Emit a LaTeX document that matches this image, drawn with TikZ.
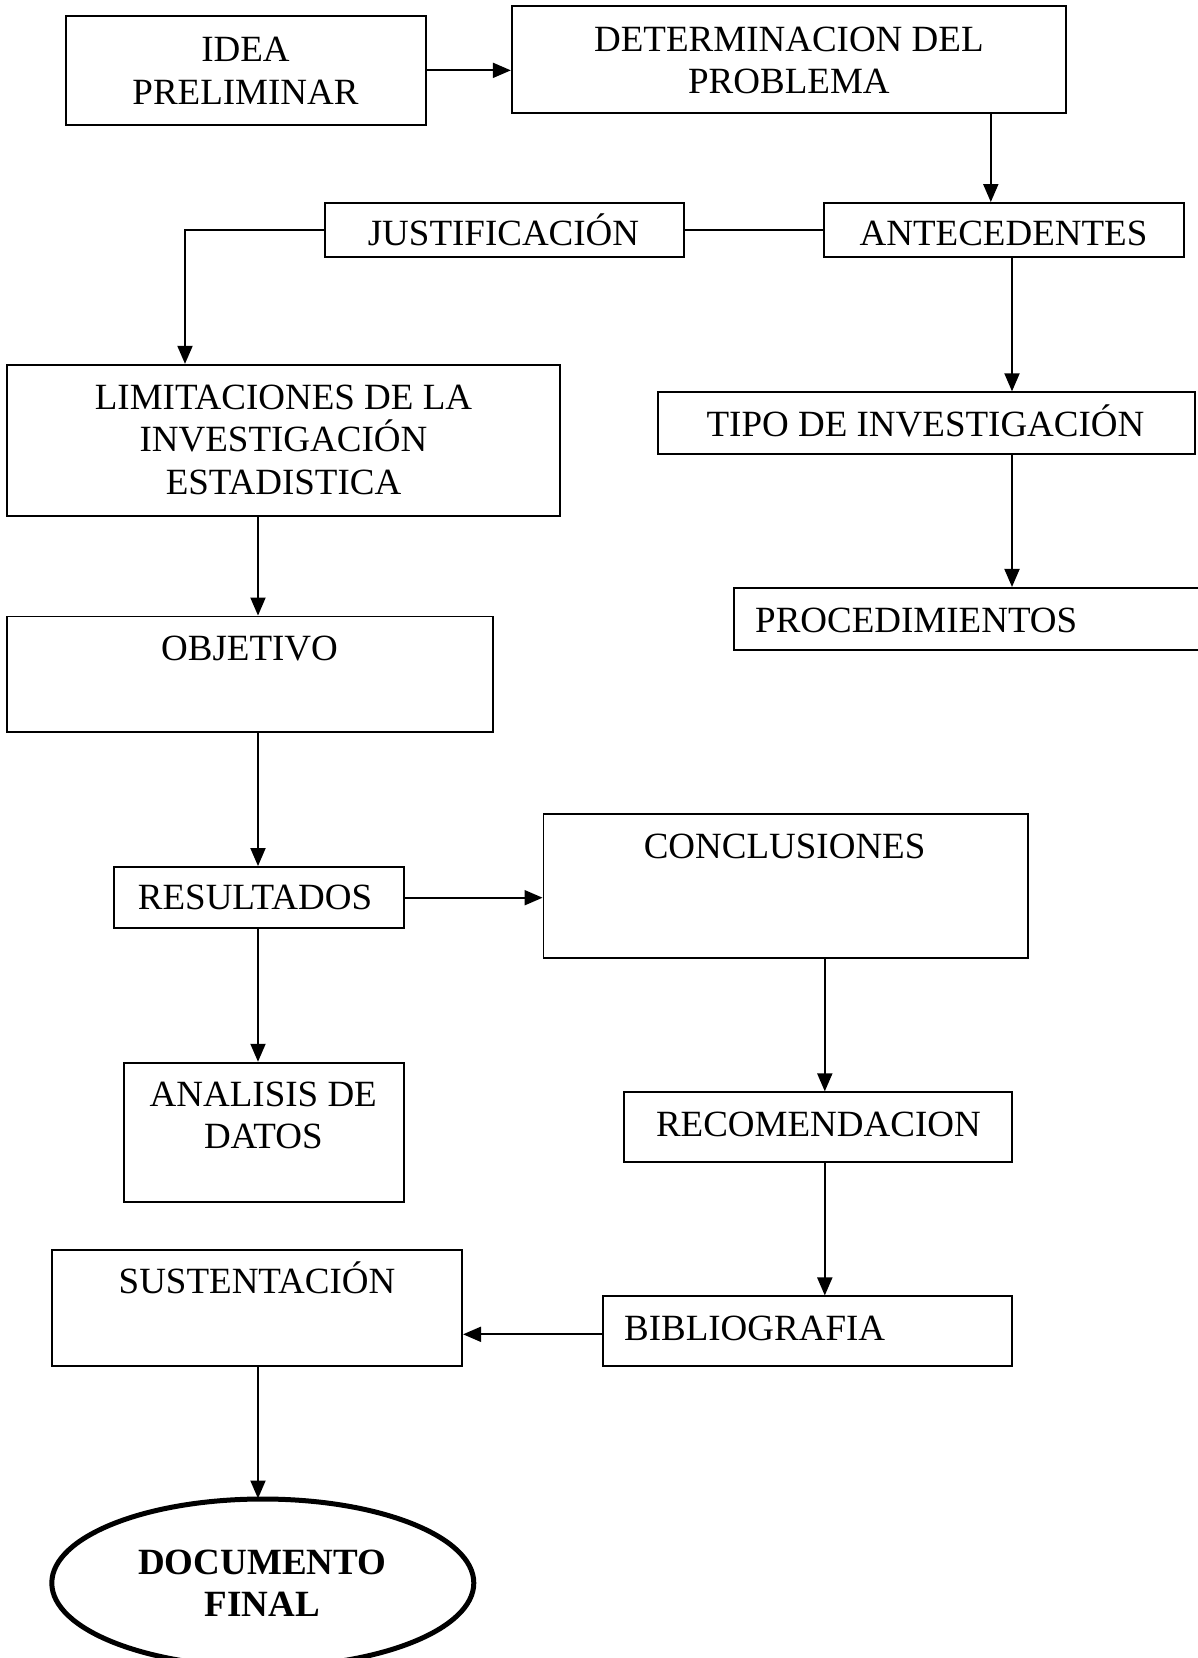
\documentclass[tikz,border=0pt]{standalone}
\usepackage{fontspec}
\setmainfont{Liberation Serif}
\usetikzlibrary{arrows.meta,fit,shapes.geometric}
\newcommand\fsz{\fontsize{37}{42.3}\selectfont}
\tikzset{
  box/.style={draw, line width=1.9pt, inner sep=0pt},
  txt/.style={font=\fsz, anchor=base, inner sep=0pt},
  arr/.style={line width=1.9pt, -{Triangle[length=18pt,width=15pt]}},
  ln/.style={line width=1.9pt}
}
\newcommand\boxat[5]{\node[box, fit={(#2,#3) (#4,#5)}] (#1) {};}
\begin{document}
\begin{tikzpicture}[x=1pt,y=-1pt]
\useasboundingbox (0,0) rectangle (1198,1658);
% boxes
\boxat{idea}{65.6}{15.9}{426.1}{124.8}
\boxat{det}{511.8}{6.3}{1065.9}{113.1}
\boxat{just}{324.6}{203}{684.1}{257}
\boxat{ant}{823.7}{203}{1184.3}{257}
\boxat{limit}{7.4}{364.8}{560.4}{516}
\boxat{tipo}{657.7}{392.3}{1194.9}{453.6}
\boxat{proc}{733.8}{587.9}{1220}{650.3}
\boxat{obj}{7.4}{616.5}{492.7}{731.7}
\boxat{res}{114.2}{867}{403.9}{928.4}
\boxat{conc}{543.5}{814.2}{1027.8}{958}
\boxat{anal}{123.7}{1062.7}{403.9}{1202.3}
\boxat{recom}{623.9}{1092.3}{1011.9}{1162.1}
\boxat{bib}{602.7}{1296.4}{1011.9}{1366.2}
\boxat{sust}{51.8}{1249.9}{462.1}{1366.2}
\node[draw, ellipse, line width=5pt, minimum width=422pt, minimum height=168pt, inner sep=0pt] (doc) at (262.8,1583) {};
% texts
\node[txt] (idea1) at (245.5,61.7) {IDEA};
\node[txt] (idea2) at (245.5,104) {PRELIMINAR};
\node[txt] (det1) at (788.9,51) {DETERMINACION DEL};
\node[txt] (det2) at (788.9,93.4) {PROBLEMA};
\node[txt] (just1) at (503.5,245.7) {JUSTIFICACIÓN};
\node[txt] (ant1) at (1003.5,245.7) {ANTECEDENTES};
\node[txt] (lim1) at (283.5,409.6) {LIMITACIONES DE LA};
\node[txt] (lim2) at (283.5,451.9) {INVESTIGACIÓN};
\node[txt] (lim3) at (283.5,494.2) {ESTADISTICA};
\node[txt] (tipo1) at (925.5,436) {TIPO DE INVESTIGACIÓN};
\node[txt, anchor=base west] (proc1) at (755,632.7) {PROCEDIMIENTOS};
\node[txt] (obj1) at (249.5,660) {OBJETIVO};
\node[txt] (res1) at (255,909.7) {RESULTADOS};
\node[txt] (conc1) at (784.6,858) {CONCLUSIONES};
\node[txt] (anal1) at (263.3,1106.4) {ANALISIS DE};
\node[txt] (anal2) at (263.3,1148.7) {DATOS};
\node[txt] (rec1) at (818.4,1136) {RECOMENDACION};
\node[txt, anchor=base west] (bib1) at (623.9,1340) {BIBLIOGRAFIA};
\node[txt] (sust1) at (257,1293.6) {SUSTENTACIÓN};
\node[txt, font=\fsz\bfseries] (doc1) at (262.2,1574) {DOCUMENTO};
\node[txt, font=\fsz\bfseries] (doc2) at (262.2,1616) {FINAL};
% connector columns
\coordinate (cA) at (990.8,0);
\coordinate (cB) at (1012,0);
\coordinate (cC) at (258,0);
\coordinate (cD) at (824.8,0);
\coordinate (cE) at (185,0);
% connectors
\draw[arr] (idea.east) -- (idea.east -| det.west);
\draw[arr] (det.south -| cA) -- (ant.north -| cA);
\draw[ln] (just.east) -- (ant.west);
\draw[arr] (just.west) -| (limit.north -| cE);
\draw[arr] (ant.south -| cB) -- (tipo.north -| cB);
\draw[arr] (tipo.south -| cB) -- (proc.north -| cB);
\draw[arr] (limit.south -| cC) -- (obj.north -| cC);
\draw[arr] (obj.south -| cC) -- (res.north -| cC);
\draw[arr] (res.east) -- (res.east -| conc.west);
\draw[arr] (res.south -| cC) -- (anal.north -| cC);
\draw[arr] (conc.south -| cD) -- (recom.north -| cD);
\draw[arr] (recom.south -| cD) -- (bib.north -| cD);
\draw[arr] ([yshift=-3pt]bib.west) -- ([yshift=-3pt]bib.west -| sust.east);
\draw[arr] (sust.south -| cC) -- ([yshift=-2pt]doc.north -| cC);
\end{tikzpicture}
\end{document}
